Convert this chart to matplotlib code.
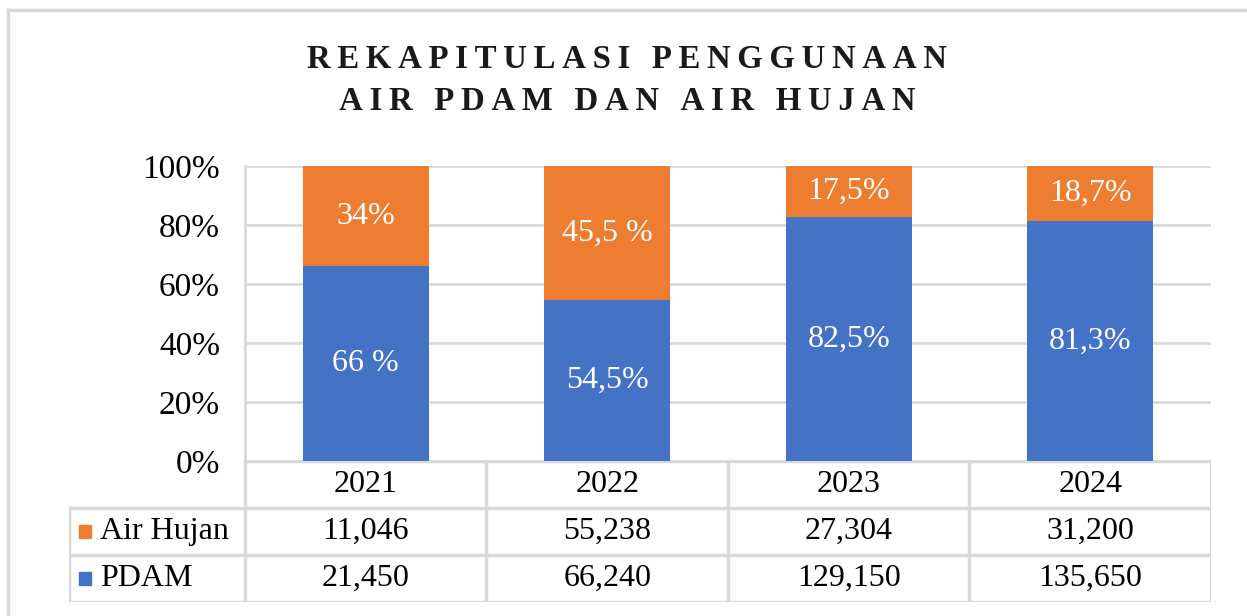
import numpy as np
import matplotlib.pyplot as plt
from matplotlib.lines import Line2D
from matplotlib.patches import Rectangle

plt.rcParams["font.family"] = ["Liberation Serif", "DejaVu Serif"]

# data
years = ["2021", "2022", "2023", "2024"]
air_hujan = [11046, 55238, 27304, 31200]
pdam = [21450, 66240, 129150, 135650]
label_hujan = ["34%", "45,5 %", "17,5%", "18,7%"]
label_pdam = ["66 %", "54,5%", "82,5%", "81,3%"]
series_names = ["Air Hujan", "PDAM"]

BLUE = "#4472C4"
ORANGE = "#ED7D31"
GRID = "#D9D9D9"
FS = 23

W, H = 1247, 616
fig = plt.figure(figsize=(W / 100, H / 100), dpi=100)


def fx(px):
    return px / W


def fy(py):
    return 1 - py / H


# outer frame
fig.add_artist(Line2D([fx(8), 1], [fy(10), fy(10)], color="#D9D9D9", lw=2.5))
fig.add_artist(Line2D([fx(8), fx(8)], [fy(10), 0], color="#D9D9D9", lw=2.5))

# title
title_lines = ["REKAPITULASI PENGGUNAAN", "AIR PDAM DAN AIR HUJAN"]
for i, line in enumerate(title_lines):
    spaced = "\u2009".join(line)
    fig.text(fx(627), fy(59 + 42 * i), spaced, ha="center", va="center",
             fontsize=23.7, fontweight="bold", color="#1a1a1a")

# main chart
left, right, top, bottom = 245, 1211, 166, 461
ax = fig.add_axes([fx(left), fy(bottom), fx(right - left), (bottom - top) / H])

hujan = np.array(air_hujan, dtype=float)
pd_ = np.array(pdam, dtype=float)
total = hujan + pd_
p_pdam = pd_ / total * 100
p_hujan = hujan / total * 100
x = np.arange(len(years))
bw = 0.52

ax.bar(x, p_pdam, bw, color=BLUE, zorder=3)
ax.bar(x, p_hujan, bw, bottom=p_pdam, color=ORANGE, zorder=3)

for i in range(len(years)):
    ax.text(x[i], p_pdam[i] / 2, label_pdam[i], ha="center", va="center",
            color="white", fontsize=FS, zorder=4)
    ax.text(x[i], p_pdam[i] + p_hujan[i] / 2, label_hujan[i], ha="center",
            va="center", color="white", fontsize=FS, zorder=4)

ax.set_xlim(-0.5, len(years) - 0.5)
ax.set_ylim(0, 100)
ax.set_yticks(np.arange(0, 101, 20))
ax.set_yticklabels([f"{v}%" for v in range(0, 101, 20)], fontsize=24)
ax.tick_params(axis="y", length=0, pad=18)
ax.set_xticks([])
ax.grid(axis="y", color=GRID, lw=2, zorder=0)
for s in ["top", "right", "bottom"]:
    ax.spines[s].set_visible(False)
ax.spines["left"].set_color(GRID)
ax.spines["left"].set_linewidth(2)

# data table
t_left, t_right, t_top, t_bottom = 69, 1211, 461, 602
tab = fig.add_axes([fx(t_left), fy(t_bottom), fx(t_right - t_left), (t_bottom - t_top) / H])
label_w = (left - t_left) / ((right - left) / len(years))
tab.set_xlim(-0.5 - label_w, len(years) - 0.5)
tab.set_ylim(3, 0)
tab.axis("off")

lc = dict(color=GRID, lw=2.5, solid_capstyle="projecting")
tab.plot([-0.5, len(years) - 0.5], [0, 0], **lc)
for r in [1, 2, 3]:
    tab.plot([-0.5 - label_w, len(years) - 0.5], [r, r], **lc)
tab.plot([-0.5 - label_w] * 2, [1, 3], **lc)
for c in range(len(years) + 1):
    tab.plot([c - 0.5] * 2, [0, 3], **lc)

for i, yr in enumerate(years):
    tab.text(i, 0.5, yr, ha="center", va="center", fontsize=FS)
    tab.text(i, 1.5, f"{air_hujan[i]:,}", ha="center", va="center", fontsize=FS)
    tab.text(i, 2.5, f"{pdam[i]:,}", ha="center", va="center", fontsize=FS)

for r, (name, col) in enumerate(zip(series_names, [ORANGE, BLUE])):
    tab.add_patch(Rectangle((-0.5 - label_w + 0.04, 1 + r + 0.36), 0.052, 0.28,
                            color=col))
    tab.text(-0.5 - label_w + 0.128, 1.5 + r, name, ha="left", va="center",
             fontsize=FS)

fig.savefig("out.png", dpi=100)
